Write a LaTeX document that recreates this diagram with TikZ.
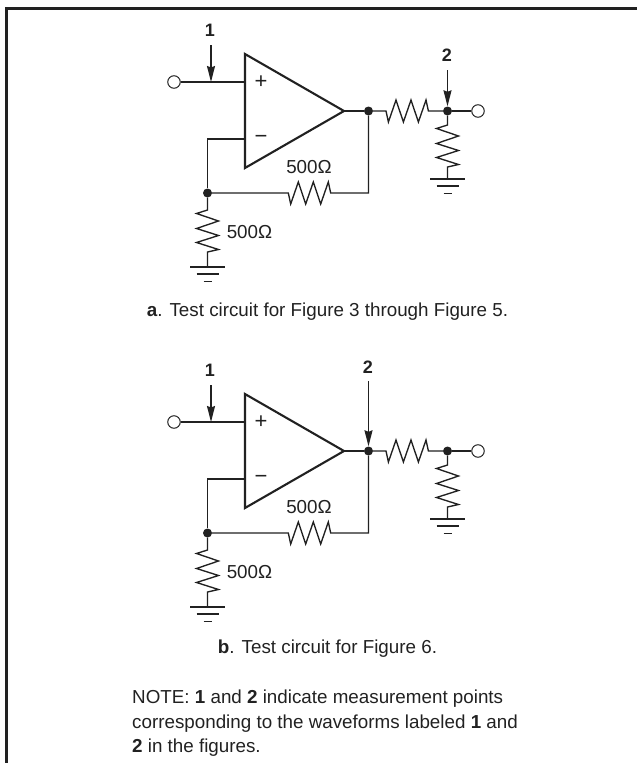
\documentclass[tikz,border=0pt]{standalone}
\usepackage{fontspec}
\setmainfont{Liberation Sans}
\usetikzlibrary{arrows.meta,calc}
\definecolor{ink}{gray}{0.13}
\tikzset{
  wire/.style={draw=ink,line width=1.35pt,line join=miter},
  amp/.style={draw=ink,line width=2.1pt,line join=miter},
  probe/.style={draw=ink,line width=1.35pt,-{Stealth[length=16pt,width=8pt,inset=1.5pt]}},
  dotnode/.style={circle,fill=ink,inner sep=0pt,minimum size=9pt},
  port/.style={circle,draw=ink,fill=white,line width=1pt,inner sep=0pt,minimum size=12.5pt},
  txt/.style={text=ink,font=\fontsize{18.8}{22}\selectfont,inner sep=0pt},
  bold/.style={text=ink,font=\fontsize{18}{22}\selectfont\bfseries,inner sep=0pt},
  sign/.style={text=ink,inner sep=0pt,font=\fontsize{22}{24}\selectfont}
}
\newcommand{\hres}{-- ++(2.4,11) -- ++(7.6,-22) -- ++(7.4,22) -- ++(7.6,-22) -- ++(7.4,22) -- ++(7.6,-22) -- ++(2.4,11)}
\newcommand{\vres}{-- ++(-11,3.5) -- ++(22,7.5) -- ++(-22,7.5) -- ++(22,7) -- ++(-22,7) -- ++(22,7) -- ++(-11,2.5)}
\newcommand{\gnd}[2]{%
  \coordinate (#1g) at (#2);
  \draw[wire] ($(#1g)+(-17.5,0)$) -- ($(#1g)+(17.5,0)$);
  \draw[wire] ($(#1g)+(-11,7)$) -- ($(#1g)+(11,7)$);
  \draw[wire] ($(#1g)+(-4,14.5)$) -- ($(#1g)+(4,14.5)$);}
\newcommand{\circuit}[3]{%
\begin{scope}[shift={(0,#2)}]
  \coordinate (#1tl) at (245,54); \coordinate (#1bl) at (245,168); \coordinate (#1tip) at (344,111);
  \coordinate (#1ip) at (245,82); \coordinate (#1im) at (245,139);
  \node[port] (#1in) at (174,82) {};
  \coordinate (#1pa) at (211,82);
  \node[dotnode] (#1fb) at (207.5,193) {};
  \node[dotnode] (#1out) at (368.5,111) {};
  \node[dotnode] (#1load) at (447.5,111) {};
  \node[port] (#1o) at (478,111) {};
  \coordinate (#1r1s) at (207.5,210);
  \coordinate (#1r2s) at (288.3,193);
  \coordinate (#1r3s) at (386,111);
  \coordinate (#1r4s) at (447.5,125);
  \draw[amp] (#1tl) -- (#1tip) -- (#1bl) -- cycle;
  \draw[wire] (#1in) -- (#1ip);
  \draw[wire] (#1im) -| (#1fb);
  \draw[wire] (#1tip) -- (#1out);
  \draw[wire] (#1out) -- (#1r3s) \hres -- (#1load);
  \draw[wire] (#1load) -- (#1o);
  \draw[wire] (#1fb) -- (#1r2s) \hres -- (368.5,193) -- (#1out);
  \draw[wire] (#1fb) -- (#1r1s) \vres -- (207.5,267);
  \draw[wire] (#1load) -- (#1r4s) \vres -- (447.5,179);
  \gnd{#1a}{207.5,267}
  \gnd{#1b}{447.5,179}
  \node[sign] (#1plus) at (261,82) {+};
  \node[sign] (#1minus) at (261,139) {−};
  \node[txt] (#1l1) at (309,167) {500Ω};
  \node[txt] (#1l2) at (249.5,232.5) {500Ω};
  \node[bold] (#1n1) at (210,30) {1};
  \coordinate (#1s1) at (211,45);
  \draw[probe] (#1s1) -- (#1pa);
  #3
\end{scope}}
\begin{document}
\begin{tikzpicture}[x=1pt,y=-1pt]
\useasboundingbox (0,0) rectangle (637,763);
\draw[draw=ink,line width=2.6pt] (6.5,763) -- (6.5,8.5) -- (637,8.5);
\circuit{A}{0}{%
  \node[bold] (An2) at (447,55) {2};
  \coordinate (As2) at (447.5,70);
  \draw[probe] (As2) -- (Aload);}
\circuit{B}{340}{%
  \node[bold] (Bn2) at (368,27) {2};
  \coordinate (Bs2) at (368.5,41);
  \draw[probe] (Bs2) -- (Bout);}
\node[txt,anchor=base] (capa) at (327.5,316) {\textbf{a}. Test circuit for Figure 3 through Figure 5.};
\node[txt,anchor=base] (capb) at (327.5,653) {\textbf{b}. Test circuit for Figure 6.};
\node[txt,anchor=base west] (n1) at (132,703) {NOTE: \textbf{1} and \textbf{2} indicate measurement points};
\node[txt,anchor=base west] (n2) at (132,728) {corresponding to the waveforms labeled \textbf{1} and};
\node[txt,anchor=base west] (n3) at (132,752) {\textbf{2} in the figures.};
\end{tikzpicture}
\end{document}
